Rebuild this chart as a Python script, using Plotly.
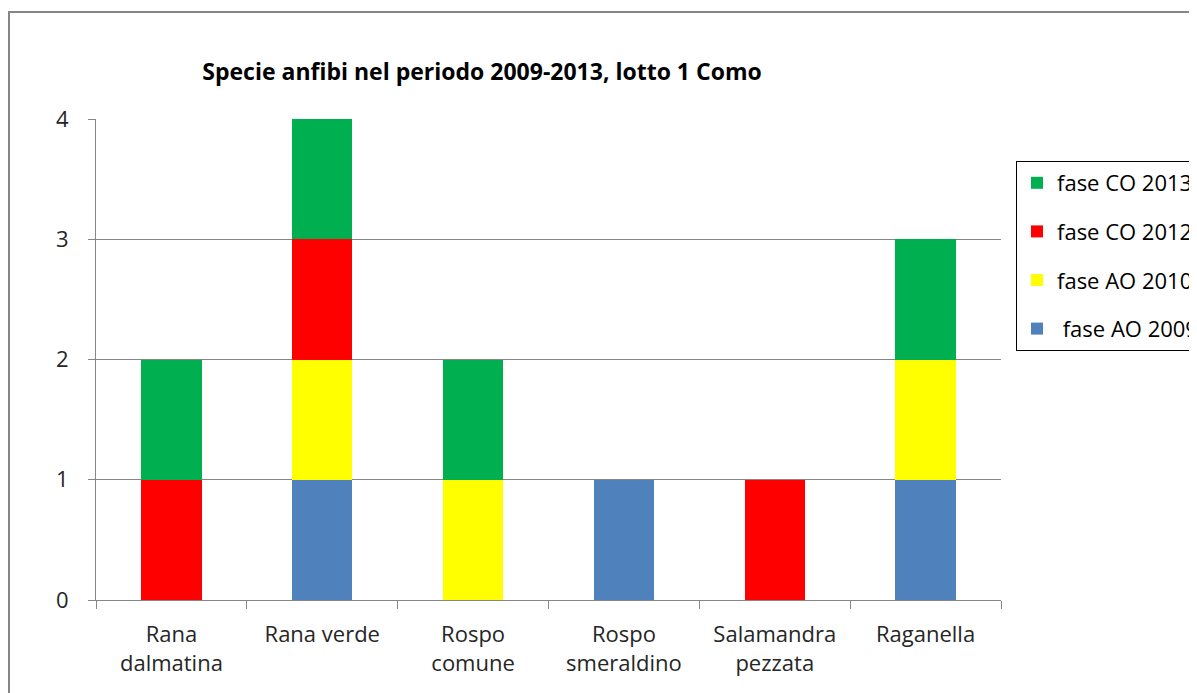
import plotly.graph_objects as go

categories = ["Rana<br>dalmatina", "Rana verde", "Rospo<br>comune", "Rospo<br>smeraldino",
              "Salamandra<br>pezzata", "Raganella"]
ao_2009 = [0, 1, 0, 1, 0, 1]
ao_2010 = [0, 1, 1, 0, 0, 1]
co_2012 = [1, 1, 0, 0, 1, 0]
co_2013 = [1, 1, 1, 0, 0, 1]
y_ticks = [0, 1, 2, 3, 4]

series = [
    (" fase AO 2009", ao_2009, "#4F81BD"),
    ("fase AO 2010", ao_2010, "#FFFF00"),
    ("fase CO 2012", co_2012, "#FF0000"),
    ("fase CO 2013", co_2013, "#00B050"),
]

fig = go.Figure()
n = len(series)
for i, (name, vals, col) in enumerate(series):
    fig.add_trace(go.Bar(x=categories, y=vals, name=name, legendgroup=f"g{i}",
                         legendrank=1000 + (n - i),
                         marker=dict(color=col, line=dict(width=0))))

OFF = 8  # page body margin
W, H = 1197 - OFF, 693 - OFF
L, R, T, B = 96 - OFF, 1001 - OFF, 119 - OFF, 600 - OFF
fig.update_layout(
    width=W, height=H,
    barmode="stack", bargap=0.6,
    margin=dict(l=L, r=W - R, t=T, b=H - B, autoexpand=False),
    paper_bgcolor="white", plot_bgcolor="white",
    font=dict(family="Open Sans, Liberation Sans, sans-serif", size=22, color="#262626"),
    title=dict(text="<b>Specie anfibi nel periodo 2009-2013, lotto 1 Como</b>",
               x=(482 - OFF) / W, xanchor="center", xref="container",
               y=1 - (72 - OFF) / H, yanchor="middle", yref="container",
               font=dict(size=23, color="#000000")),
    legend=dict(x=(1016 - 96) / (R - L), xanchor="left",
                y=(600 - 161) / (B - T), yanchor="top",
                traceorder="grouped", tracegroupgap=17,
                bordercolor="#000000", borderwidth=1, bgcolor="white",
                font=dict(size=22, color="#000000"),
                itemwidth=30),
    xaxis=dict(showline=True, linecolor="#868686", linewidth=1,
               ticks="outside", ticklen=8, tickcolor="#868686", tickson="boundaries",
               showgrid=False, ticklabelstandoff=15,
               tickfont=dict(size=22, color="#262626")),
    yaxis=dict(range=[0, 4], tickvals=y_ticks, showline=True, linecolor="#868686", linewidth=1,
               ticks="outside", ticklen=7, tickcolor="#868686",
               showgrid=True, gridcolor="#868686", gridwidth=1, zeroline=False,
               ticklabelstandoff=15, tickfont=dict(size=22, color="#262626")),
    shapes=[dict(type="rect", xref="paper", yref="paper",
                 x0=(9 - 96) / (R - L), x1=1.5,
                 y0=-0.5, y1=(600 - 12) / (B - T),
                 line=dict(color="#868686", width=2), fillcolor="rgba(0,0,0,0)", layer="below")],
)

fig.write_html("out.html")
